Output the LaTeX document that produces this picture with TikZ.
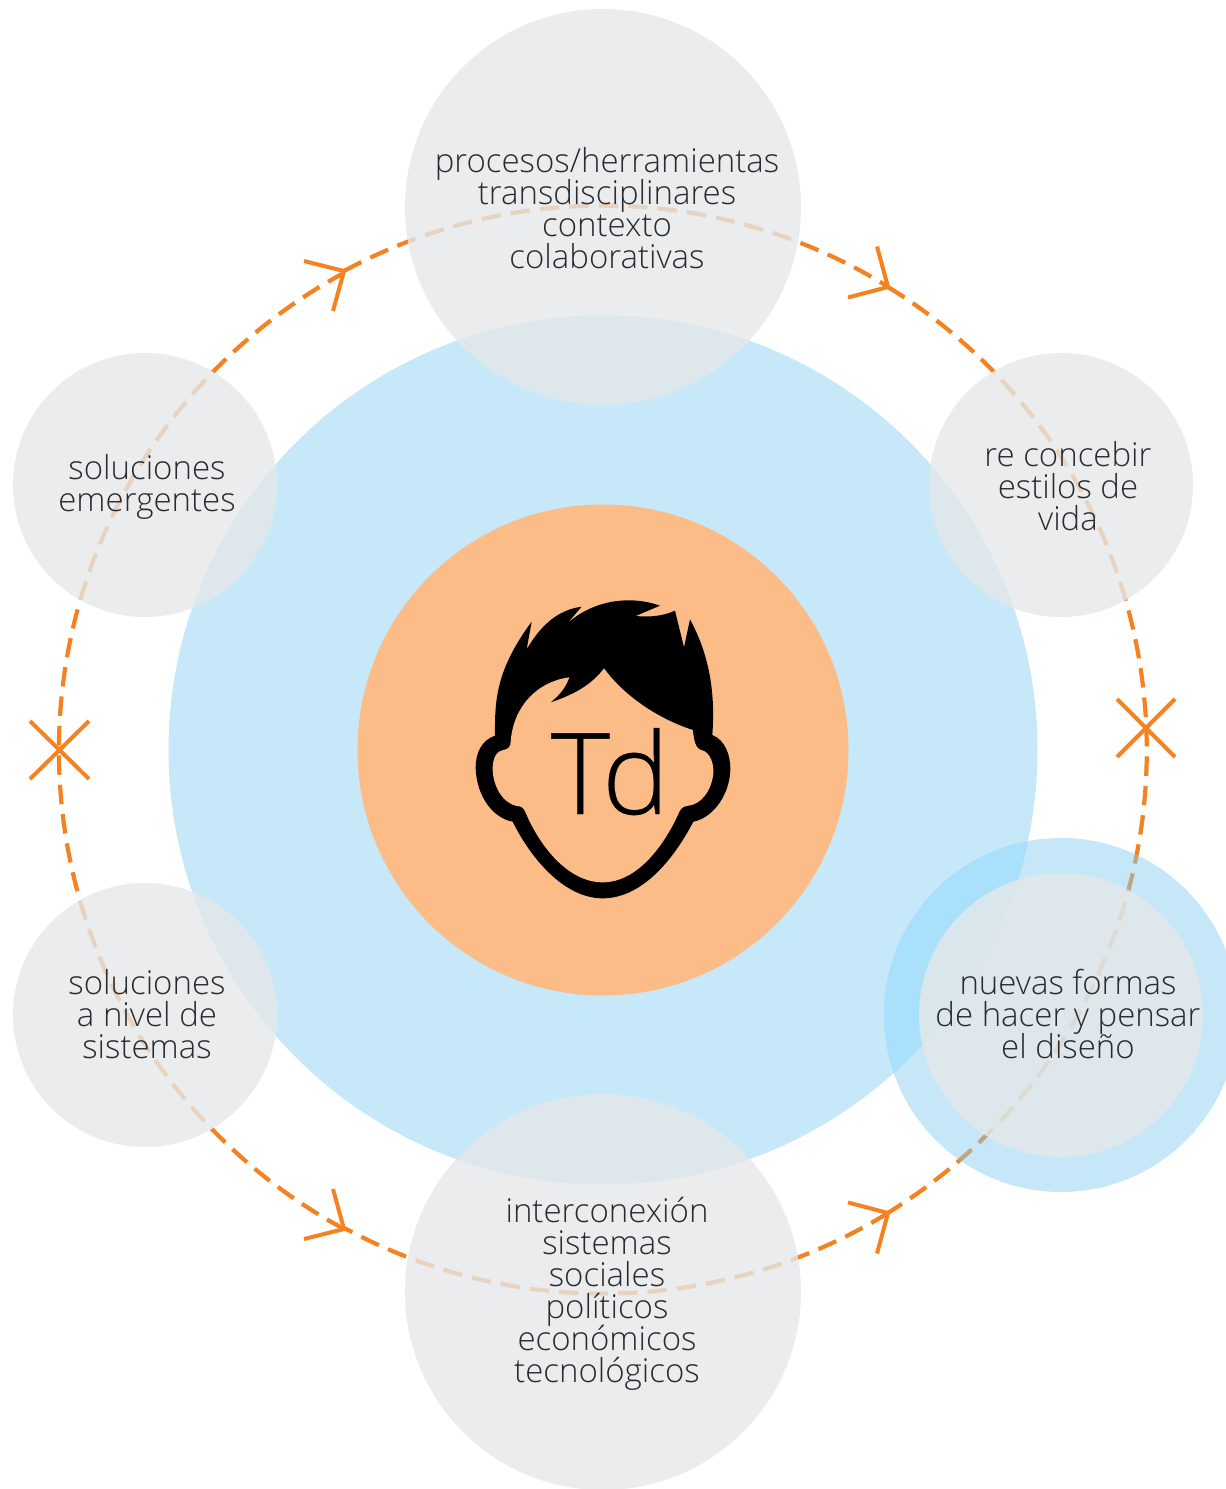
\documentclass[tikz,border=0pt]{standalone}
\usepackage{fontspec}
\setmainfont{Open Sans Light}
\newfontfamily\tdfont[FakeBold=0.35]{Open Sans Light}
\newcommand{\lblfont}{\fontsize{33}{32}\selectfont\setlength{\lineskiplimit}{-100pt}}
\definecolor{skyc}{HTML}{C6E8F9}
\definecolor{halo}{HTML}{86CEF2}
\definecolor{haloover}{HTML}{A9E0FB}
\definecolor{peach}{HTML}{FBBC87}
\definecolor{ringc}{HTML}{F58220}
\definecolor{greyc}{HTML}{E5E8E9}
\definecolor{inkc}{HTML}{2B2A2E}
\tikzset{
  disc/.style={circle,inner sep=0pt,outer sep=0pt,minimum size=#1},
  bubble/.style={disc=#1,fill=greyc,fill opacity=.8},
  lbl/.style={anchor=base,align=center,text=inkc,inner sep=0pt,font=\lblfont},
  ringarc/.style={draw=ringc,line width=4.2pt,dash pattern=on 19.5pt off 10pt},
  ringmark/.style={draw=ringc,line width=4pt}
}
\begin{document}
\begin{tikzpicture}[x=1pt,y=-1pt]
\useasboundingbox (0,0) rectangle (1226,1489);
\clip (0,0) rectangle (1226,1489);
\fill[white] (0,0) rectangle (1226,1489);
% large discs
\node[disc=869pt,fill=skyc] (sky) at (603,750) {};
\node[disc=491pt,fill=peach] (core) at (603,750) {};
% dashed ring, in four arcs that start at the chevrons
\coordinate (ctr) at (603,750);
\coordinate (apexTL) at (344,271);
\coordinate (apexTR) at (888,287);
\coordinate (apexBR) at (888,1213);
\coordinate (apexBL) at (344,1229);
\draw[ringarc] (apexTL) arc[start angle=241.6,end angle=301.6,radius=543.5];
\draw[ringarc] (apexTR) arc[start angle=301.6,end angle=418.4,radius=543.5];
\draw[ringarc] (apexBR) arc[start angle=58.4,end angle=118.4,radius=543.5];
\draw[ringarc] (apexBL) arc[start angle=118.4,end angle=241.6,radius=543.5];
% chevrons
\draw[ringmark] (877,246.5) -- (apexTR) -- (848,297.5);
\draw[ringmark] (848,1202.5) -- (apexBR) -- (877,1253.5);
\draw[ringmark] (304,261) -- (apexTL) -- (333,311);
\draw[ringmark] (333,1189) -- (apexBL) -- (304,1239);
% crosses
\draw[ringmark] (1117,699) -- (1175,757) (1175,699) -- (1117,757);
\draw[ringmark] (30,721) -- (89,779) (89,721) -- (30,779);
% halo
\node[disc=354pt,fill=halo,fill opacity=.47] (halo) at (1061,1015) {};
\begin{scope}
\clip (603,750) circle[radius=434.5];
\fill[haloover] (1061,1015) circle[radius=177];
\end{scope}
% grey bubbles
\node[bubble=396pt] (top) at (603,207) {};
\node[bubble=396pt] (bottom) at (603,1292) {};
\node[bubble=264pt] (lu) at (145,485) {};
\node[bubble=264pt] (ld) at (145,1015) {};
\node[bubble=264pt] (ru) at (1061,485) {};
\node[bubble=284pt] (rd) at (1061,1015) {};
% head
\begin{scope}[shift={(460,590)},scale=1/3]
\fill[black] (105,437)
  .. controls (104,330) and (108,240) .. (215,95)
  -- (200,178)
  .. controls (240,110) and (290,60) .. (365,50)
  -- (322,100)
  .. controls (400,30) and (510,15) .. (600,47)
  -- (527,78)
  .. controls (570,82) and (610,78) .. (645,62)
  -- (672,172)
  -- (690,88)
  .. controls (740,180) and (768,290) .. (757,435)
  .. controls (795,450) and (812,495) .. (811,540)
  .. controls (808,620) and (755,685) .. (700,695)
  .. controls (640,810) and (545,925) .. (428,925)
  .. controls (315,925) and (215,810) .. (158,695)
  .. controls (100,685) and (50,620) .. (47,535)
  .. controls (46,490) and (65,450) .. (105,437) -- cycle;
\fill[peach] (152,455)
  .. controls (160,350) and (230,275) .. (328,262)
  .. controls (318,290) and (300,315) .. (270,338)
  .. controls (340,315) and (395,285) .. (432,235)
  .. controls (490,315) and (590,385) .. (698,420)
  .. controls (703,445) and (702,478) .. (730,482)
  .. controls (750,490) and (762,520) .. (760,550)
  .. controls (755,600) and (725,645) .. (680,648)
  .. controls (665,650) and (660,660) .. (655,672)
  .. controls (615,760) and (535,877) .. (428,877)
  .. controls (325,877) and (240,770) .. (197,668)
  .. controls (192,655) and (185,648) .. (170,648)
  .. controls (130,640) and (98,590) .. (98,535)
  .. controls (98,505) and (110,482) .. (130,480)
  .. controls (145,478) and (152,470) .. (152,455) -- cycle;
\end{scope}
\node[anchor=base,inner sep=0pt,text=black,font=\tdfont\fontsize{113}{113}\selectfont] (td) at (610,814) {Td};
% labels: the base of a multi-line node is that of its last line
\node[lbl] (t1) at (607,268) {procesos/herramientas\\transdisciplinares\\contexto\\colaborativas};
\node[lbl] (t2) at (1068,530) {re concebir\\estilos de\\vida};
\node[lbl] (t3) at (1068,1058) {nuevas formas\\de hacer y pensar\\el diseño};
\node[lbl] (t4) at (607,1382) {interconexión\\sistemas\\sociales\\políticos\\económicos\\tecnológicos};
\node[lbl] (t5) at (147,1058) {soluciones\\a nivel de\\sistemas};
\node[lbl] (t6) at (147,511) {soluciones\\emergentes};
\end{tikzpicture}
\end{document}
